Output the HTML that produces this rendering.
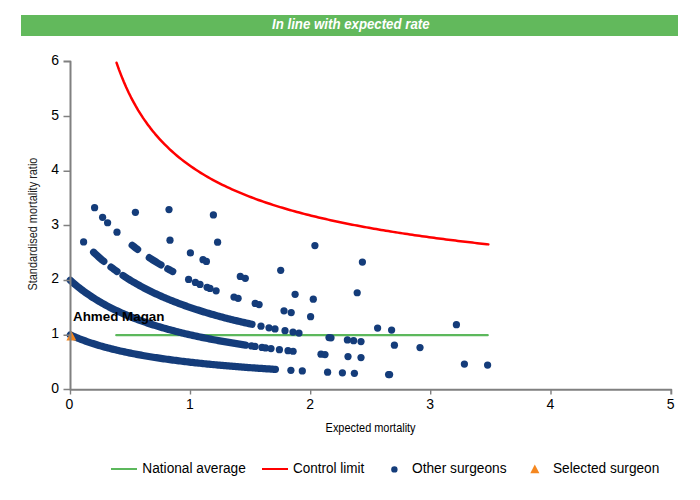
<!DOCTYPE html>
<html><head><meta charset="utf-8"><style>
html,body{margin:0;padding:0;background:#fff;}
body{width:700px;height:500px;overflow:hidden;position:relative;font-family:"Liberation Sans",sans-serif;}
svg{position:absolute;left:0;top:0;}
</style></head><body>
<svg width="700" height="500" viewBox="0 0 700 500" font-family="Liberation Sans, sans-serif">
<rect x="21" y="15" width="657" height="21" fill="#62b95c"/>
<text x="350.8" y="28.8" text-anchor="middle" fill="#fff" font-size="13.8" font-weight="bold" font-style="italic" textLength="157.5" lengthAdjust="spacingAndGlyphs">In line with expected rate</text>
<!-- control limit -->
<polyline points="116.58,62.80 118.98,69.61 121.39,75.92 123.79,81.81 126.19,87.31 128.60,92.47 131.00,97.32 133.41,101.89 135.81,106.21 138.21,110.29 140.62,114.16 143.02,117.84 145.43,121.35 147.83,124.68 150.23,127.87 152.64,130.91 155.04,133.83 157.45,136.62 159.85,139.30 162.25,141.87 164.66,144.35 167.06,146.73 169.47,149.03 171.87,151.24 174.27,153.37 176.68,155.44 179.08,157.43 181.49,159.36 183.89,161.23 186.29,163.04 188.70,164.79 191.10,166.49 193.51,168.14 195.91,169.75 198.31,171.31 200.72,172.82 203.12,174.29 205.53,175.73 207.93,177.12 210.33,178.48 212.74,179.81 215.14,181.10 217.55,182.36 219.95,183.59 222.35,184.80 224.76,185.97 227.16,187.11 229.57,188.23 231.97,189.33 234.37,190.40 236.78,191.45 239.18,192.47 241.59,193.47 243.99,194.46 246.39,195.42 248.80,196.36 251.20,197.28 253.61,198.19 256.01,199.08 258.41,199.95 260.82,200.80 263.22,201.64 265.63,202.46 268.03,203.27 270.43,204.06 272.84,204.84 275.24,205.61 277.65,206.36 280.05,207.10 282.45,207.82 284.86,208.54 287.26,209.24 289.67,209.93 292.07,210.61 294.47,211.28 296.88,211.94 299.28,212.58 301.69,213.22 304.09,213.85 306.49,214.47 308.90,215.07 311.30,215.67 313.71,216.26 316.11,216.84 318.51,217.42 320.92,217.98 323.32,218.54 325.73,219.09 328.13,219.63 330.53,220.16 332.94,220.69 335.34,221.21 337.75,221.72 340.15,222.23 342.55,222.72 344.96,223.22 347.36,223.70 349.77,224.18 352.17,224.66 354.57,225.12 356.98,225.58 359.38,226.04 361.79,226.49 364.19,226.93 366.59,227.37 369.00,227.81 371.40,228.23 373.81,228.66 376.21,229.08 378.61,229.49 381.02,229.90 383.42,230.30 385.83,230.70 388.23,231.10 390.63,231.49 393.04,231.87 395.44,232.25 397.85,232.63 400.25,233.00 402.65,233.37 405.06,233.74 407.46,234.10 409.87,234.46 412.27,234.81 414.67,235.16 417.08,235.51 419.48,235.85 421.89,236.19 424.29,236.53 426.69,236.86 429.10,237.19 431.50,237.51 433.91,237.84 436.31,238.15 438.71,238.47 441.12,238.78 443.52,239.09 445.93,239.40 448.33,239.71 450.73,240.01 453.14,240.30 455.54,240.60 457.95,240.89 460.35,241.18 462.75,241.47 465.16,241.76 467.56,242.04 469.97,242.32 472.37,242.60 474.77,242.87 477.18,243.14 479.58,243.41 481.99,243.68 484.39,243.94 486.79,244.21 488.36,244.38" fill="none" stroke="#ff0000" stroke-width="2.5" stroke-linecap="round" stroke-linejoin="round"/>
<!-- national average -->
<line x1="116.3" y1="335.2" x2="487.7" y2="335.2" stroke="#5cb85c" stroke-width="2.3" stroke-linecap="round"/>
<!-- dots -->
<g fill="#143c7a" stroke="#143c7a" stroke-width="7.24" stroke-linecap="round" stroke-linejoin="round">
<g stroke="none">
<circle cx="290.90" cy="370.28" r="3.62"/>
<circle cx="302.30" cy="370.90" r="3.62"/>
<circle cx="327.60" cy="372.15" r="3.62"/>
<circle cx="342.40" cy="372.81" r="3.62"/>
<circle cx="354.40" cy="373.31" r="3.62"/>
<circle cx="388.60" cy="374.57" r="3.62"/>
<circle cx="389.60" cy="374.61" r="3.62"/>
<circle cx="251.50" cy="345.97" r="3.62"/>
<circle cx="255.00" cy="346.47" r="3.62"/>
<circle cx="262.00" cy="347.44" r="3.62"/>
<circle cx="265.50" cy="347.90" r="3.62"/>
<circle cx="271.00" cy="348.62" r="3.62"/>
<circle cx="279.40" cy="349.66" r="3.62"/>
<circle cx="288.00" cy="350.68" r="3.62"/>
<circle cx="293.10" cy="351.25" r="3.62"/>
<circle cx="321.00" cy="354.13" r="3.62"/>
<circle cx="325.00" cy="354.51" r="3.62"/>
<circle cx="348.00" cy="356.54" r="3.62"/>
<circle cx="361.00" cy="357.58" r="3.62"/>
<circle cx="464.40" cy="364.01" r="3.62"/>
<circle cx="487.60" cy="365.11" r="3.62"/>
<circle cx="83.60" cy="241.96" r="3.62"/>
<circle cx="261.00" cy="326.18" r="3.62"/>
<circle cx="269.00" cy="327.77" r="3.62"/>
<circle cx="275.00" cy="328.91" r="3.62"/>
<circle cx="285.00" cy="330.72" r="3.62"/>
<circle cx="293.00" cy="332.09" r="3.62"/>
<circle cx="299.00" cy="333.08" r="3.62"/>
<circle cx="329.00" cy="337.55" r="3.62"/>
<circle cx="331.00" cy="337.82" r="3.62"/>
<circle cx="347.40" cy="339.96" r="3.62"/>
<circle cx="353.60" cy="340.72" r="3.62"/>
<circle cx="361.00" cy="341.60" r="3.62"/>
<circle cx="394.40" cy="345.20" r="3.62"/>
<circle cx="420.00" cy="347.62" r="3.62"/>
<circle cx="94.60" cy="207.74" r="3.62"/>
<circle cx="102.60" cy="217.28" r="3.62"/>
<circle cx="107.60" cy="222.75" r="3.62"/>
<circle cx="117.00" cy="232.14" r="3.62"/>
<circle cx="188.60" cy="279.40" r="3.62"/>
<circle cx="195.40" cy="282.45" r="3.62"/>
<circle cx="200.00" cy="284.42" r="3.62"/>
<circle cx="207.10" cy="287.33" r="3.62"/>
<circle cx="210.00" cy="288.47" r="3.62"/>
<circle cx="216.10" cy="290.79" r="3.62"/>
<circle cx="234.00" cy="297.01" r="3.62"/>
<circle cx="238.10" cy="298.33" r="3.62"/>
<circle cx="255.20" cy="303.44" r="3.62"/>
<circle cx="259.10" cy="304.53" r="3.62"/>
<circle cx="284.00" cy="310.87" r="3.62"/>
<circle cx="291.20" cy="312.53" r="3.62"/>
<circle cx="310.60" cy="316.68" r="3.62"/>
<circle cx="377.60" cy="328.10" r="3.62"/>
<circle cx="391.60" cy="330.05" r="3.62"/>
<circle cx="135.40" cy="212.33" r="3.62"/>
<circle cx="170.00" cy="240.22" r="3.62"/>
<circle cx="190.40" cy="252.89" r="3.62"/>
<circle cx="203.00" cy="259.70" r="3.62"/>
<circle cx="206.40" cy="261.42" r="3.62"/>
<circle cx="240.30" cy="276.39" r="3.62"/>
<circle cx="245.30" cy="278.31" r="3.62"/>
<circle cx="295.10" cy="294.37" r="3.62"/>
<circle cx="313.30" cy="299.14" r="3.62"/>
<circle cx="456.40" cy="324.69" r="3.62"/>
<circle cx="169.00" cy="209.53" r="3.62"/>
<circle cx="217.60" cy="242.24" r="3.62"/>
<circle cx="280.70" cy="270.35" r="3.62"/>
<circle cx="357.20" cy="292.75" r="3.62"/>
<circle cx="213.40" cy="214.94" r="3.62"/>
<circle cx="314.90" cy="245.52" r="3.62"/>
<circle cx="362.40" cy="262.11" r="3.62"/>
</g>
<g fill="none">
<polyline points="70.30,334.91 71.81,335.59 73.32,336.25 74.82,336.89 76.33,337.52 77.84,338.14 79.35,338.74 80.86,339.32 82.36,339.89 83.87,340.45 85.38,341.00 86.89,341.54 88.40,342.06 89.91,342.57 91.41,343.07 92.92,343.56 94.43,344.04 95.94,344.52 97.45,344.98 98.95,345.43 100.46,345.87 101.97,346.30 103.48,346.73 104.99,347.15 106.49,347.56 108.00,347.96 109.51,348.35 111.02,348.74 112.53,349.11 114.03,349.49 115.54,349.85 117.05,350.21 118.56,350.56 120.07,350.91 121.57,351.25 123.08,351.58 124.59,351.91 126.10,352.23 127.61,352.55 129.12,352.86 130.62,353.17 132.13,353.47 133.64,353.77 135.15,354.06 136.66,354.34 138.16,354.63 139.67,354.90 141.18,355.18 142.69,355.45 144.20,355.71 145.70,355.97 147.21,356.23 148.72,356.48 150.23,356.73 151.74,356.98 153.24,357.22 154.75,357.46 156.26,357.69 157.77,357.92 159.28,358.15 160.79,358.38 162.29,358.60 163.80,358.82 165.31,359.03 166.82,359.24 168.33,359.45 169.83,359.66 171.34,359.86 172.85,360.07 174.36,360.26 175.87,360.46 177.37,360.65 178.88,360.84 180.39,361.03 181.90,361.22 183.41,361.40 184.91,361.58 186.42,361.76 187.93,361.93 189.44,362.11 190.95,362.28 192.46,362.45 193.96,362.62 195.47,362.78 196.98,362.95 198.49,363.11 200.00,363.27 201.50,363.43 203.01,363.58 204.52,363.74 206.03,363.89 207.54,364.04 209.04,364.19 210.55,364.33 212.06,364.48 213.57,364.62 215.08,364.76 216.58,364.90 218.09,365.04 219.60,365.18 221.11,365.32 222.62,365.45 224.12,365.58 225.63,365.71 227.14,365.84 228.65,365.97 230.16,366.10 231.67,366.22 233.17,366.35 234.68,366.47 236.19,366.59 237.70,366.71 239.21,366.83 240.71,366.95 242.22,367.07 243.73,367.18 245.24,367.30 246.75,367.41 248.25,367.52 249.76,367.63 251.27,367.74 252.78,367.85 254.29,367.96 255.79,368.07 257.30,368.17 258.81,368.28 260.32,368.38 261.83,368.48 263.34,368.58 264.84,368.68 266.35,368.78 267.86,368.88 269.37,368.98 270.88,369.08 272.38,369.17 273.89,369.27 275.40,369.36"/>
<polyline points="70.30,280.27 71.81,281.63 73.32,282.95 74.83,284.24 76.34,285.50 77.85,286.73 79.36,287.93 80.87,289.10 82.38,290.25 83.89,291.37 85.40,292.47 86.91,293.54 88.42,294.59 89.93,295.61 91.44,296.62 92.96,297.60 94.47,298.56 95.98,299.50 97.49,300.43 99.00,301.33 100.51,302.22 102.02,303.09 103.53,303.94 105.04,304.77 106.55,305.59 108.06,306.39 109.57,307.18 111.08,307.95 112.59,308.71 114.10,309.46 115.61,310.19 117.12,310.90 118.63,311.61 120.14,312.30 121.65,312.98 123.16,313.65 124.67,314.31 126.18,314.95 127.69,315.59 129.20,316.21 130.71,316.82 132.22,317.43 133.73,318.02 135.24,318.60 136.76,319.18 138.27,319.74 139.78,320.30 141.29,320.84 142.80,321.38 144.31,321.91 145.82,322.44 147.33,322.95 148.84,323.46 150.35,323.95 151.86,324.45 153.37,324.93 154.88,325.41 156.39,325.88 157.90,326.34 159.41,326.79 160.92,327.24 162.43,327.69 163.94,328.12 165.45,328.55 166.96,328.98 168.47,329.40 169.98,329.81 171.49,330.22 173.00,330.62 174.51,331.02 176.02,331.41 177.53,331.80 179.04,332.18 180.56,332.55 182.07,332.92 183.58,333.29 185.09,333.65 186.60,334.01 188.11,334.36 189.62,334.71 191.13,335.05 192.64,335.39 194.15,335.73 195.66,336.06 197.17,336.38 198.68,336.71 200.19,337.03 201.70,337.34 203.21,337.65 204.72,337.96 206.23,338.27 207.74,338.57 209.25,338.86 210.76,339.16 212.27,339.45 213.78,339.73 215.29,340.02 216.80,340.30 218.31,340.58 219.82,340.85 221.33,341.12 222.84,341.39 224.36,341.65 225.87,341.92 227.38,342.18 228.89,342.43 230.40,342.69 231.91,342.94 233.42,343.19 234.93,343.43 236.44,343.68 237.95,343.92 239.46,344.15 240.97,344.39 242.48,344.62 243.99,344.85 245.50,345.08"/>
<polyline points="93.60,252.25 95.30,253.85 97.00,255.42 98.70,256.96 100.40,258.46 102.10,259.92 103.80,261.36"/>
<polyline points="111.00,267.09 112.50,268.22 114.00,269.34 115.50,270.43 117.00,271.50"/>
<polyline points="123.00,275.59 124.50,276.57 126.00,277.54 127.50,278.48 129.00,279.41 130.50,280.33 132.00,281.23 133.50,282.12 135.00,282.99 136.50,283.85 138.00,284.69 139.50,285.52 141.00,286.34 142.50,287.14 144.00,287.93 145.50,288.71 147.00,289.48 148.50,290.24 150.00,290.98 151.50,291.72 153.00,292.44 154.50,293.15 156.00,293.86 157.50,294.55 159.00,295.23 160.50,295.90 162.00,296.57 163.50,297.22 165.00,297.86 166.50,298.50 168.00,299.13 169.50,299.75 171.00,300.35 172.50,300.96 174.00,301.55 175.50,302.14 177.00,302.71 178.50,303.28 180.00,303.85 181.50,304.40 183.00,304.95 184.50,305.49 186.00,306.03 187.50,306.55 189.00,307.08 190.50,307.59 192.00,308.10 193.50,308.60 195.00,309.10 196.50,309.59 198.00,310.07 199.50,310.55 201.00,311.02 202.50,311.49 204.00,311.95 205.50,312.40 207.00,312.85 208.50,313.30 210.00,313.74 211.50,314.17 213.00,314.60 214.50,315.03 216.00,315.45 217.50,315.87 219.00,316.28 220.50,316.68 222.00,317.09 223.50,317.48 225.00,317.88 226.50,318.26 228.00,318.65 229.50,319.03 231.00,319.41 232.50,319.78 234.00,320.15 235.50,320.51 237.00,320.87 238.50,321.23 240.00,321.58 241.50,321.93 243.00,322.28 244.50,322.62 246.00,322.96 247.50,323.30 249.00,323.63 250.50,323.96 252.00,324.29"/>
<polyline points="132.20,245.28 134.00,246.70 135.80,248.08 137.60,249.44"/>
<polyline points="149.30,257.67 150.97,258.77 152.64,259.84 154.31,260.91 155.99,261.95 157.66,262.98 159.33,263.99 161.00,264.98"/>
<polyline points="167.80,268.88 169.43,269.77 171.07,270.66 172.70,271.53"/>
</g>
</g>
<!-- selected surgeon -->
<polygon points="71.4,331 66.4,340.4 76.3,340.4" fill="#f5871f"/>
<text x="73" y="321" font-size="13.3" font-weight="bold" fill="#000" textLength="91.5" lengthAdjust="spacingAndGlyphs">Ahmed Magan</text>
<!-- axes -->
<g stroke="#808080" fill="none" stroke-linejoin="round">
<path d="M63.5 61.4 H70.5 V389.7 H671.3 V394.4" stroke-width="2"/>
<path d="M63.5 116.5H70.5 M63.5 171.3H70.5 M63.5 225.5H70.5 M63.5 280.5H70.5 M63.5 335.3H70.5 M63.5 389.6H70.5" stroke-width="1.5"/>
<path d="M70.5 389.5V394.4 M190.5 389.5V394.4 M310.7 389.5V394.4 M430.7 389.5V394.4 M551.0 389.5V394.4" stroke-width="1.4"/>
</g>
<g font-size="14" fill="#000" text-anchor="end">
<text x="59" y="64.6">6</text>
<text x="59" y="119.5">5</text>
<text x="59" y="174.2">4</text>
<text x="59" y="228.6">3</text>
<text x="59" y="283.3">2</text>
<text x="59" y="338.1">1</text>
<text x="59" y="392.6">0</text>
</g>
<g font-size="14" fill="#000" text-anchor="middle">
<text x="69.5" y="408.8">0</text>
<text x="190" y="408.8">1</text>
<text x="310.2" y="408.8">2</text>
<text x="430.2" y="408.8">3</text>
<text x="550.5" y="408.8">4</text>
<text x="670.6" y="408.8">5</text>
</g>
<text x="325.6" y="431.9" font-size="12.2" fill="#000" textLength="90" lengthAdjust="spacingAndGlyphs">Expected mortality</text>
<text transform="translate(37.3,290.6) rotate(-90)" font-size="12" fill="#222" textLength="133" lengthAdjust="spacingAndGlyphs">Standardised mortality ratio</text>
<!-- legend -->
<line x1="111" y1="469" x2="137" y2="469" stroke="#5cb85c" stroke-width="2"/>
<text x="142.3" y="473" font-size="14" fill="#000" textLength="103.5" lengthAdjust="spacingAndGlyphs">National average</text>
<line x1="262" y1="469" x2="288" y2="469" stroke="#ff0000" stroke-width="2"/>
<text x="293" y="473" font-size="14" fill="#000" textLength="71.3" lengthAdjust="spacingAndGlyphs">Control limit</text>
<circle cx="394.4" cy="469.4" r="3.2" fill="#143c7a"/>
<text x="412" y="473" font-size="14" fill="#000" textLength="94.5" lengthAdjust="spacingAndGlyphs">Other surgeons</text>
<polygon points="534.8,464.6 530.3,473.3 539.4,473.3" fill="#f5871f"/>
<text x="553" y="473" font-size="14" fill="#000" textLength="106.3" lengthAdjust="spacingAndGlyphs">Selected surgeon</text>
</svg>
</body></html>
